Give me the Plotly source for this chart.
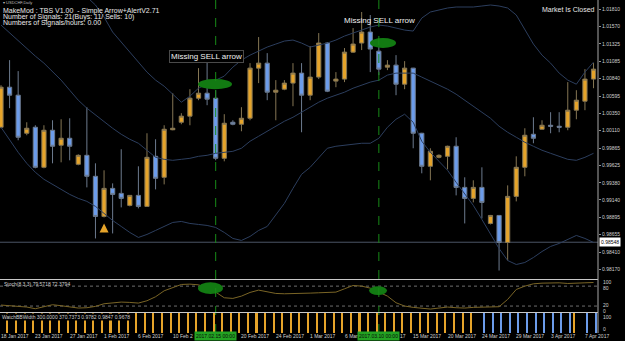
import plotly.graph_objects as go

W, H = 625, 341

# ---------------- data ----------------
bars = list(range(70))
opens = [1.00158,1.00719,1.00607,1.00074,1.00158,0.99597,1.00116,0.99906,1.00004,0.99639,
         0.99765,0.99471,0.98909,0.99302,0.99232,0.99064,0.99204,0.99050,0.99751,0.99457,
         1.00123,1.00228,1.00313,1.00565,1.00635,1.00565,0.99723,1.00228,1.00200,1.00284,
         1.00986,1.01056,1.00649,1.00691,1.00776,1.00916,1.00607,1.00860,1.01337,1.00804,
         1.00832,1.01210,1.01337,1.01491,1.01224,1.01000,1.01028,1.00761,1.00986,1.00074,
         0.99611,0.99737,0.99751,0.99892,0.99316,0.99162,0.99316,0.98811,0.98923,0.98545,
         0.99190,0.99597,1.00060,1.00130,1.00186,1.00172,1.00158,1.00397,1.00523,1.00832]
highs = [1.00747,1.01098,1.00944,1.00228,1.00186,1.00186,1.00256,1.00270,1.00284,0.99779,
         1.00439,0.99653,0.99555,0.99372,0.99850,0.99204,0.99611,1.00074,0.99990,1.00186,
         1.00635,1.00355,1.00691,1.00986,1.01239,1.00677,1.00341,1.00256,1.00439,1.01056,
         1.01421,1.01196,1.00818,1.00818,1.01056,1.01056,1.01295,1.01477,1.01351,1.00930,
         1.01267,1.01547,1.01772,1.01730,1.01309,1.01098,1.01168,1.01084,1.00990,1.00080,
         0.99864,0.99779,0.99900,1.00018,0.99457,0.99415,0.99597,0.98930,0.98930,0.99344,
         0.99751,1.00144,1.00298,1.00256,1.00369,1.00369,1.00790,1.00677,1.00972,1.01056]
lows = [1.00144,1.00425,0.99976,1.00046,0.99583,0.99583,0.99653,0.99667,0.99695,0.99625,
        0.99316,0.98601,0.98895,0.98671,0.99036,0.99050,0.99022,0.99050,0.99288,0.99358,
        1.00116,1.00200,1.00186,1.00537,1.00467,0.99695,0.99681,1.00186,1.00102,1.00256,
        1.00776,1.00537,1.00256,1.00677,1.00453,1.00088,1.00537,1.00832,1.00650,1.00719,
        1.00790,1.01200,1.01239,1.00930,1.00888,1.00958,1.00607,1.00691,0.99864,0.99513,
        0.99415,0.99723,0.99569,0.99204,0.98811,0.99106,0.98881,0.98797,0.98152,0.98292,
        0.99120,0.99471,0.99934,1.00125,1.00074,1.00088,1.00116,1.00270,1.00397,1.00705]
closes = [1.00719,1.00607,1.00018,1.00144,0.99597,1.00116,0.99892,1.00004,0.99892,0.99765,
          0.99471,0.98909,0.99302,0.99218,0.99162,0.99204,0.99050,0.99737,0.99443,1.00130,
          1.00144,1.00313,1.00565,1.00635,1.00551,0.99723,1.00214,1.00200,1.00284,1.00986,
          1.01056,1.00649,1.00677,1.00776,1.00916,1.00607,1.00860,1.01337,1.00663,1.00832,
          1.01210,1.01323,1.01491,1.01253,1.00972,1.01028,1.00761,1.00986,1.00074,0.99611,
          0.99821,0.99765,0.99892,0.99316,0.99162,0.99316,0.99106,0.98923,0.98545,0.99190,
          0.99597,1.00046,1.00004,1.00186,1.00172,1.00158,1.00397,1.00537,1.00832,1.00972]

bb_upper = [1.03020,1.02922,1.02838,1.02740,1.02642,1.02571,1.02473,1.02361,1.02249,1.02108,
            1.01982,1.01870,1.01701,1.01491,1.01351,1.01210,1.01084,1.00930,1.00818,1.00733,
            1.00621,1.00509,1.00593,1.00705,1.00761,1.00818,1.00874,1.01000,1.01098,1.01168,
            1.01224,1.01281,1.01323,1.01365,1.01379,1.01337,1.01281,1.01309,1.01337,1.01379,
            1.01435,1.01477,1.01519,1.01561,1.01589,1.01575,1.01547,1.01519,1.01505,1.01687,
            1.01772,1.01800,1.01828,1.01842,1.01842,1.01842,1.01856,1.01870,1.01856,1.01828,
            1.01730,1.01519,1.01323,1.01168,1.01056,1.00916,1.00818,1.00761,1.00930,1.01070]
bb_middle = [1.01589,1.01477,1.01365,1.01253,1.01154,1.01056,1.00944,1.00818,1.00677,1.00537,
             1.00425,1.00327,1.00242,1.00144,1.00060,0.99990,0.99934,0.99836,0.99737,0.99709,
             0.99695,0.99709,0.99723,0.99751,0.99765,0.99793,0.99807,0.99821,0.99864,0.99962,
             1.00032,1.00102,1.00172,1.00242,1.00298,1.00369,1.00439,1.00509,1.00565,1.00607,
             1.00649,1.00705,1.00747,1.00790,1.00818,1.00888,1.00916,1.00916,1.00916,1.00860,
             1.00804,1.00747,1.00691,1.00621,1.00537,1.00453,1.00369,1.00284,1.00172,1.00088,
             1.00018,0.99948,0.99892,0.99836,0.99793,0.99751,0.99709,0.99695,0.99737,0.99793]
bb_lower = [1.00158,0.99976,0.99807,0.99653,0.99527,0.99429,0.99358,0.99288,0.99218,0.99162,
            0.99120,0.99050,0.98952,0.98853,0.98769,0.98685,0.98615,0.98657,0.98713,0.98769,
            0.98825,0.98839,0.98811,0.98797,0.98783,0.98755,0.98685,0.98601,0.98573,0.98629,
            0.98713,0.98769,0.98923,0.99092,0.99302,0.99499,0.99597,0.99723,0.99864,0.99892,
            0.99906,0.99920,0.99934,0.99934,1.00004,1.00158,1.00270,1.00341,1.00228,0.99962,
            0.99807,0.99681,0.99555,0.99387,0.99232,0.99064,0.98867,0.98671,0.98460,0.98292,
            0.98236,0.98264,0.98334,0.98418,0.98489,0.98531,0.98587,0.98643,0.98601,0.98545]

stoch_main = [23,21,19,17,12,19,24,21,17,14,
              15,19,27,30,32,31,29,36,48,66,
              76,85,86,84,74,62,45,43,50,61,
              68,64,58,57,57,58,59,60,60,62,
              72,82,80,74,62,50,30,20,16,13,
              11,14,17,15,14,16,17,17,18,40,
              70,80,87,89,90,90,88,88,90,91]

# WatchBBWidth histogram: 1 = orange state, 0 = blue state
bbw_state = [1]*56 + [0]*11 + [1] + [0, 0]
hist_up = [100 if s == 1 else None for s in bbw_state]
hist_dn = [100 if s == 0 else None for s in bbw_state]

price_ticks = [1.01810, 1.01570, 1.01325, 1.01085, 1.00840, 1.00595, 1.00350, 1.00110,
               0.99865, 0.99625, 0.99380, 0.99140, 0.98895, 0.98655, 0.98410, 0.98170]
current_price = 0.98548

# visible parts of the time-axis labels (some are partly hidden by the marker boxes)
date_labels = ["18 Jan 2017", "23 Jan 2017", "27 Jan 2017", "1 Feb 2017", "6 Feb 2017",
               "10 Feb 2", "20 Feb 2017", "24 Feb 2017", "1 Mar 2017",
               "6 Mar", "17", "15 Mar 2017", "20 Mar 2017", "24 Mar 2017",
               "29 Mar 2017", "3 Apr 2017", "7 Apr 2017"]
date_bars = [0, 4, 8, 12, 16, 20, 28, 32, 36, 40, 46.5, 48, 52, 56, 60, 64, 68]
marked_bars = [25, 44]
marked_labels = ["2017.02.15 00:00", "2017.03.10 00:00"]
buy_arrow_bar = 12

# ---------------- styling ----------------
UP = "#E6A42A"
DN = "#6C9CEB"
UP_WICK = "#857654"
DN_WICK = "#6C7A8E"
BB = "#2c3e5e"
STOCH = "#7a6526"
GREEN = "#127a12"
FONT = "Liberation Sans"

XD = 598 / W          # right edge of plot area
x_lo, x_hi = -0.116, 69.52
y_lo, y_hi = 0.98026, 1.01940


def X(px):
    return px / W


def Y(py):
    return 1 - py / H


fig = go.Figure()

for band in (bb_upper, bb_middle, bb_lower):
    fig.add_trace(go.Scatter(x=bars, y=band, mode="lines", line=dict(color=BB, width=1),
                             hoverinfo="skip", showlegend=False))

fig.add_trace(go.Candlestick(
    x=bars, open=opens, high=highs, low=lows, close=closes,
    increasing=dict(fillcolor=UP, line=dict(color=UP_WICK, width=1)),
    decreasing=dict(fillcolor=DN, line=dict(color=DN_WICK, width=1)),
    whiskerwidth=0, showlegend=False, hoverinfo="skip"))

fig.add_trace(go.Scatter(x=bars, y=stoch_main, mode="lines", line=dict(color=STOCH, width=1),
                         xaxis="x2", yaxis="y2", hoverinfo="skip", showlegend=False))

fig.add_trace(go.Bar(x=bars, y=hist_up, marker=dict(color=UP, line=dict(width=0)), width=0.24,
                     xaxis="x3", yaxis="y3", hoverinfo="skip", showlegend=False))
fig.add_trace(go.Bar(x=bars, y=hist_dn, marker=dict(color=DN, line=dict(width=0)), width=0.24,
                     xaxis="x3", yaxis="y3", hoverinfo="skip", showlegend=False))

shapes = []
# green highlight ellipses
shapes.append(dict(type="circle", xref="x", yref="y", x0=22.94, x1=26.9, y0=1.00691, y1=1.00832,
                   fillcolor=GREEN, line=dict(width=0), layer="above"))
shapes.append(dict(type="circle", xref="x", yref="y", x0=42.97, x1=46.0, y0=1.01267, y1=1.01407,
                   fillcolor=GREEN, line=dict(width=0), layer="above"))
shapes.append(dict(type="circle", xref="x2", yref="y2", x0=22.94, x1=25.85, y0=56, y1=92,
                   fillcolor=GREEN, line=dict(width=0), layer="above"))
shapes.append(dict(type="circle", xref="x2", yref="y2", x0=42.86, x1=44.95, y0=53, y1=80,
                   fillcolor=GREEN, line=dict(width=0), layer="above"))
# dashed markers
for b in marked_bars:
    shapes.append(dict(type="line", xref="x", yref="paper", x0=b, x1=b, y0=Y(333), y1=1,
                       line=dict(color="#178a17", width=1, dash="dash"), layer="above"))
# current price line
shapes.append(dict(type="line", xref="paper", yref="y", x0=0, x1=XD, y0=current_price,
                   y1=current_price, line=dict(color="#4c5566", width=1), layer="below"))
# stoch levels
for lv in (80, 20):
    shapes.append(dict(type="line", xref="paper", yref="y2", x0=0, x1=XD, y0=lv, y1=lv,
                       line=dict(color="#6e6e6e", width=1, dash="dot"), layer="below"))
# panel separators and right border
shapes.append(dict(type="line", xref="paper", yref="paper", x0=0, x1=XD, y0=Y(279.5), y1=Y(279.5),
                   line=dict(color="#c8c8c8", width=1)))
shapes.append(dict(type="line", xref="paper", yref="paper", x0=0, x1=XD, y0=Y(312.5), y1=Y(312.5),
                   line=dict(color="#c8c8c8", width=1)))
shapes.append(dict(type="line", xref="paper", yref="paper", x0=XD, x1=XD, y0=Y(333), y1=1,
                   line=dict(color="#a8a8a8", width=1)))

ann = []
txt = "#e8e8e8"
ann.append(dict(x=X(2), y=Y(2.5), xref="paper", yref="paper", xanchor="left", yanchor="middle",
                text="▾ USDCHF,Daily", showarrow=False, borderpad=0,
                font=dict(size=4, color="#bbbbbb", family=FONT)))
ann.append(dict(x=X(1), y=Y(11), xref="paper", yref="paper", xanchor="left", yanchor="middle",
                text="MakeMod : TBS V1.00  - Simple Arrow+AlertV2.71", showarrow=False,
                font=dict(size=7, color=txt, family=FONT)))
ann.append(dict(x=X(1), y=Y(17), xref="paper", yref="paper", xanchor="left", yanchor="middle",
                text="Number of Signals: 21(Buys: 11/ Sells: 10)", showarrow=False,
                font=dict(size=7, color=txt, family=FONT)))
ann.append(dict(x=X(1), y=Y(23), xref="paper", yref="paper", xanchor="left", yanchor="middle",
                text="Numbers of Signals/hours: 0.00", showarrow=False,
                font=dict(size=7, color=txt, family=FONT)))
ann.append(dict(x=X(597), y=Y(10), xref="paper", yref="paper", xanchor="right", yanchor="middle",
                text="Market Is Closed", showarrow=False, font=dict(size=7, color=txt, family=FONT)))
ann.append(dict(x=X(206.5), y=Y(56.5), xref="paper", yref="paper", xanchor="center", yanchor="middle",
                text="Missing SELL arrow", showarrow=False, bgcolor="#000000", bordercolor="#4a4a4a",
                borderwidth=1, borderpad=1, font=dict(size=8, color="#f0f0f0", family=FONT)))
ann.append(dict(x=X(379), y=Y(21), xref="paper", yref="paper", xanchor="center", yanchor="middle",
                text="Missing SELL arrow", showarrow=False, font=dict(size=8, color="#f0f0f0", family=FONT)))
# buy arrow
ann.append(dict(x=buy_arrow_bar, y=0.98811, xref="x", yref="y", ax=0, ay=10, text="",
                showarrow=True, arrowhead=2, arrowsize=0.9, arrowwidth=2, arrowcolor=UP))
# panel labels
ann.append(dict(x=X(2), y=Y(284), xref="paper", yref="paper", xanchor="left", yanchor="middle",
                text="Stoch(8,3,3) 79.5718 72.3794", showarrow=False,
                font=dict(size=5, color="#d0d0d0", family=FONT)))
ann.append(dict(x=X(1), y=Y(317), xref="paper", yref="paper", xanchor="left", yanchor="middle",
                text="WatchBBWidth 300.0000 370.7373 0.9782 0.9847 0.9678", showarrow=False,
                bgcolor="#000000", borderpad=0, font=dict(size=5, color="#d0d0d0", family=FONT)))
for t, py in (("100", 281.5), ("80", 287.5), ("20", 304.5), ("0", 310.5), ("100", 317), ("0", 329)):
    ann.append(dict(x=X(601), y=Y(py), xref="paper", yref="paper", xanchor="left", yanchor="middle",
                    text=t, showarrow=False, font=dict(size=5, color="#d0d0d0", family=FONT)))
# current price box
ann.append(dict(x=X(599), y=current_price, xref="paper", yref="y", xanchor="left", yanchor="middle",
                text="0.98548", showarrow=False, bgcolor="#ffffff", borderpad=1,
                font=dict(size=5, color="#000000", family=FONT)))
# date labels
for b, t in zip(date_bars, date_labels):
    ann.append(dict(x=b, y=Y(336), xref="x", yref="paper", xanchor="left", yanchor="middle",
                    xshift=-2, text=t, showarrow=False, font=dict(size=5, color="#d0d0d0", family=FONT)))
for b, t in zip(marked_bars, marked_labels):
    ann.append(dict(x=b, y=Y(336), xref="x", yref="paper", xanchor="center", yanchor="middle",
                    text=t, showarrow=False, bgcolor="#22a222", borderpad=1,
                    font=dict(size=5, color="#0a0a0a", family=FONT)))

fig.update_layout(
    width=W, height=H, autosize=False,
    margin=dict(l=0, r=0, t=0, b=0, pad=0),
    paper_bgcolor="#000000", plot_bgcolor="#000000",
    showlegend=False, boxgap=0.3, bargap=0,
    font=dict(family=FONT, color="#d0d0d0"),
    xaxis=dict(domain=[0, XD], range=[x_lo, x_hi], visible=False, anchor="y",
               rangeslider=dict(visible=False), showgrid=False, zeroline=False),
    xaxis2=dict(domain=[0, XD], range=[x_lo, x_hi], matches="x", visible=False, anchor="y2"),
    xaxis3=dict(domain=[0, XD], range=[x_lo, x_hi], matches="x", visible=False, anchor="y3"),
    yaxis=dict(domain=[Y(279.5), 1], range=[y_lo, y_hi], side="right", anchor="x",
               tickvals=price_ticks, ticktext=[f"{v:.5f}" for v in price_ticks],
               tickfont=dict(size=5, color="#d0d0d0", family=FONT),
               ticks="outside", ticklen=2, tickcolor="#909090",
               showgrid=False, zeroline=False, showline=False),
    yaxis2=dict(domain=[Y(312.7), Y(279.5)], range=[0, 100], visible=False, anchor="x2"),
    yaxis3=dict(domain=[Y(333), Y(313)], range=[0, 100], visible=False, anchor="x3"),
    shapes=shapes, annotations=ann,
)

fig.write_html("out.html")
